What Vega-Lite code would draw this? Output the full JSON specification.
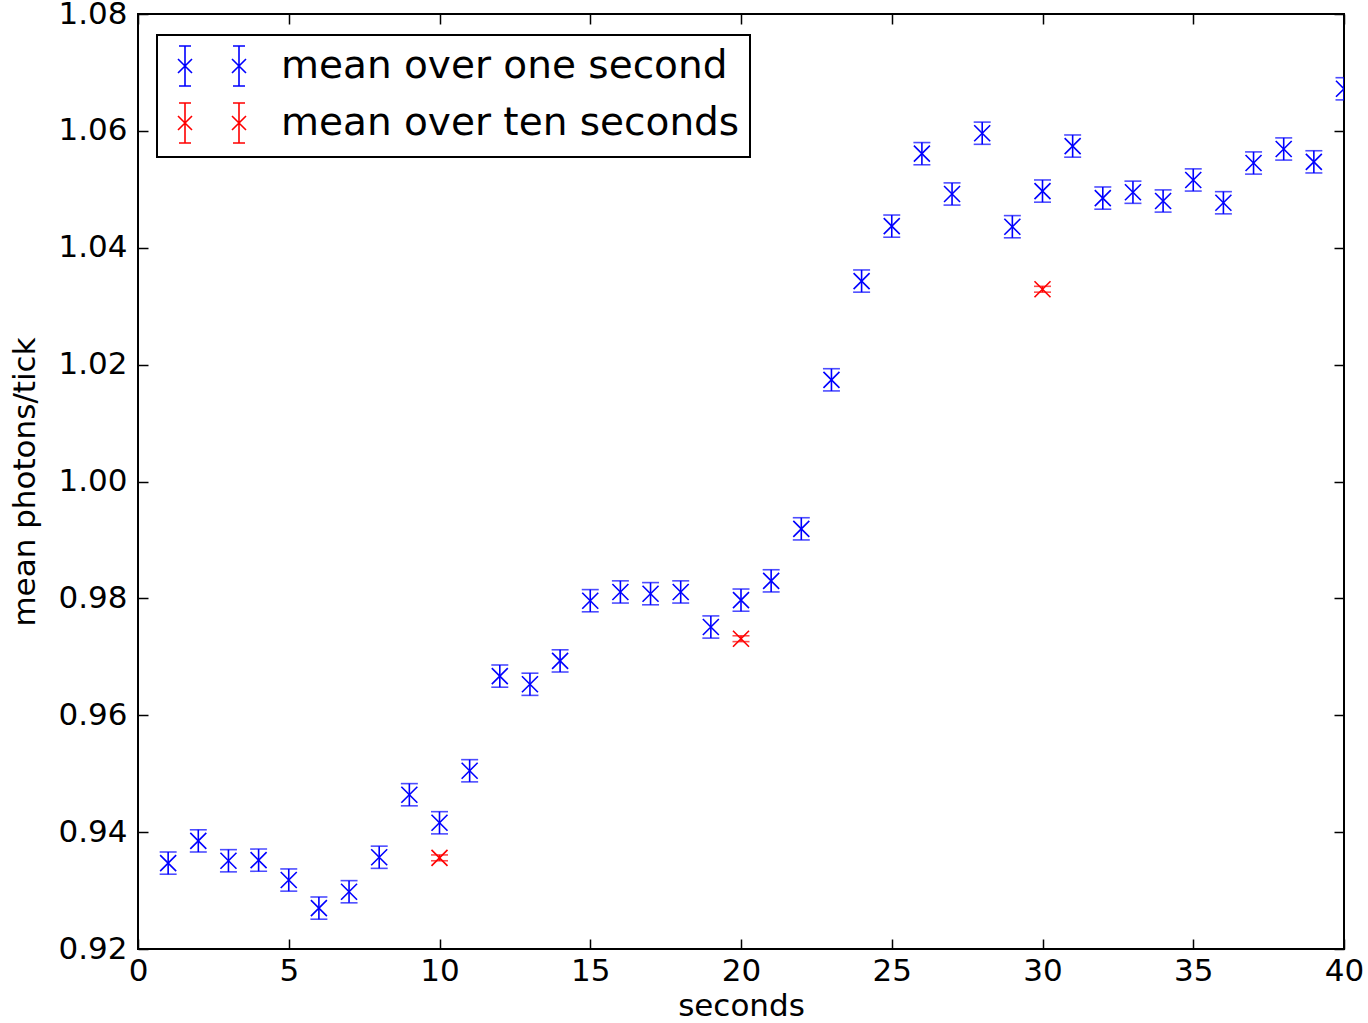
{
  "$schema": "https://vega.github.io/schema/vega-lite/v6.json",
  "width": 1206,
  "height": 935,
  "autosize": {"type": "none"},
  "padding": {"left": 138, "top": 14, "right": 24, "bottom": 74},
  "background": "white",
  "config": {
    "view": {"stroke": "black", "strokeWidth": 2},
    "font": "DejaVu Sans",
    "axis": {
      "grid": false,
      "domain": false,
      "tickSize": -10,
      "tickColor": "black",
      "tickWidth": 1.5,
      "labelFlush": false,
      "labelFont": "DejaVu Sans",
      "labelFontSize": 31,
      "labelColor": "black",
      "titleFont": "DejaVu Sans",
      "titleFontSize": 31,
      "titleFontWeight": "normal",
      "titleColor": "black"
    },
    "legend": {
      "orient": "none",
      "legendX": 19,
      "legendY": 21,
      "padding": 10,
      "strokeColor": "black",
      "strokeWidth": 2,
      "fillColor": "white",
      "labelFont": "DejaVu Sans",
      "labelFontSize": 39,
      "labelColor": "black",
      "labelLimit": 1000,
      "labelOffset": 72,
      "rowPadding": 9,
      "symbolSize": 1600,
      "symbolStrokeWidth": 1.6,
      "symbolOpacity": 1,
      "symbolFillColor": "transparent",
      "symbolType": "M-0.5,-0.35L0.2,0.35M-0.5,0.35L0.2,-0.35M-0.15,-1L-0.15,1M-0.45,-1L0.15,-1M-0.45,1L0.15,1M2.2,-0.35L2.9,0.35M2.2,0.35L2.9,-0.35M2.55,-1L2.55,1M2.25,-1L2.85,-1M2.25,1L2.85,1"
    }
  },
  "data": {
    "values": [
      {"seconds": 1, "value": 0.9347, "err": 0.0019, "series": "mean over one second"},
      {"seconds": 2, "value": 0.9385, "err": 0.0019, "series": "mean over one second"},
      {"seconds": 3, "value": 0.9351, "err": 0.0019, "series": "mean over one second"},
      {"seconds": 4, "value": 0.9352, "err": 0.0019, "series": "mean over one second"},
      {"seconds": 5, "value": 0.9318, "err": 0.0019, "series": "mean over one second"},
      {"seconds": 6, "value": 0.9270, "err": 0.0019, "series": "mean over one second"},
      {"seconds": 7, "value": 0.9298, "err": 0.0019, "series": "mean over one second"},
      {"seconds": 8, "value": 0.9357, "err": 0.0019, "series": "mean over one second"},
      {"seconds": 9, "value": 0.9464, "err": 0.0019, "series": "mean over one second"},
      {"seconds": 10, "value": 0.9416, "err": 0.0019, "series": "mean over one second"},
      {"seconds": 11, "value": 0.9505, "err": 0.0019, "series": "mean over one second"},
      {"seconds": 12, "value": 0.9667, "err": 0.0019, "series": "mean over one second"},
      {"seconds": 13, "value": 0.9653, "err": 0.0019, "series": "mean over one second"},
      {"seconds": 14, "value": 0.9693, "err": 0.0019, "series": "mean over one second"},
      {"seconds": 15, "value": 0.9796, "err": 0.0019, "series": "mean over one second"},
      {"seconds": 16, "value": 0.9811, "err": 0.0019, "series": "mean over one second"},
      {"seconds": 17, "value": 0.9808, "err": 0.0019, "series": "mean over one second"},
      {"seconds": 18, "value": 0.9811, "err": 0.0019, "series": "mean over one second"},
      {"seconds": 19, "value": 0.9751, "err": 0.0019, "series": "mean over one second"},
      {"seconds": 20, "value": 0.9797, "err": 0.0019, "series": "mean over one second"},
      {"seconds": 21, "value": 0.9830, "err": 0.0019, "series": "mean over one second"},
      {"seconds": 22, "value": 0.9919, "err": 0.0019, "series": "mean over one second"},
      {"seconds": 23, "value": 1.0174, "err": 0.0019, "series": "mean over one second"},
      {"seconds": 24, "value": 1.0343, "err": 0.0019, "series": "mean over one second"},
      {"seconds": 25, "value": 1.0437, "err": 0.0019, "series": "mean over one second"},
      {"seconds": 26, "value": 1.0561, "err": 0.0019, "series": "mean over one second"},
      {"seconds": 27, "value": 1.0492, "err": 0.0019, "series": "mean over one second"},
      {"seconds": 28, "value": 1.0596, "err": 0.0019, "series": "mean over one second"},
      {"seconds": 29, "value": 1.0436, "err": 0.0019, "series": "mean over one second"},
      {"seconds": 30, "value": 1.0497, "err": 0.0019, "series": "mean over one second"},
      {"seconds": 31, "value": 1.0574, "err": 0.0019, "series": "mean over one second"},
      {"seconds": 32, "value": 1.0485, "err": 0.0019, "series": "mean over one second"},
      {"seconds": 33, "value": 1.0495, "err": 0.0019, "series": "mean over one second"},
      {"seconds": 34, "value": 1.0480, "err": 0.0019, "series": "mean over one second"},
      {"seconds": 35, "value": 1.0516, "err": 0.0019, "series": "mean over one second"},
      {"seconds": 36, "value": 1.0477, "err": 0.0019, "series": "mean over one second"},
      {"seconds": 37, "value": 1.0545, "err": 0.0019, "series": "mean over one second"},
      {"seconds": 38, "value": 1.0569, "err": 0.0019, "series": "mean over one second"},
      {"seconds": 39, "value": 1.0547, "err": 0.0019, "series": "mean over one second"},
      {"seconds": 40, "value": 1.0672, "err": 0.0019, "series": "mean over one second"},
      {"seconds": 10, "value": 0.9356, "err": 0.0005, "series": "mean over ten seconds"},
      {"seconds": 20, "value": 0.9731, "err": 0.0005, "series": "mean over ten seconds"},
      {"seconds": 30, "value": 1.0329, "err": 0.0005, "series": "mean over ten seconds"}
    ]
  },
  "resolve": {"axis": {"x": "independent", "y": "independent"}},
  "layer": [
    {
      "mark": {"type": "errorbar", "clip": true, "thickness": 1.6, "ticks": {"size": 17, "strokeWidth": 1.6}, "rule": {"strokeWidth": 1.6}},
      "encoding": {
        "x": {"field": "seconds", "type": "quantitative",
              "scale": {"domain": [0, 40], "nice": false, "zero": false},
              "axis": {"orient": "bottom", "values": [0, 5, 10, 15, 20, 25, 30, 35, 40], "format": "d", "labelPadding": 17, "title": "seconds", "titlePadding": 5}},
        "y": {"field": "value", "type": "quantitative",
              "scale": {"domain": [0.92, 1.08], "nice": false, "zero": false},
              "axis": {"orient": "left", "values": [0.92, 0.94, 0.96, 0.98, 1.0, 1.02, 1.04, 1.06, 1.08], "format": ".2f", "labelPadding": 21, "title": "mean photons/tick", "titlePadding": 16}},
        "yError": {"field": "err"},
        "color": {"field": "series", "type": "nominal", "legend": {"title": null},
                  "scale": {"domain": ["mean over one second", "mean over ten seconds"], "range": ["#0000ff", "#ff0000"]}}
      }
    },
    {
      "mark": {"type": "point", "clip": true, "filled": false, "shape": "M-1,-1L1,1M-1,1L1,-1", "size": 256, "strokeWidth": 1.6, "opacity": 1},
      "encoding": {
        "x": {"field": "seconds", "type": "quantitative",
              "scale": {"domain": [0, 40], "nice": false, "zero": false},
              "axis": {"orient": "top", "values": [0, 5, 10, 15, 20, 25, 30, 35, 40], "labels": false, "title": null}},
        "y": {"field": "value", "type": "quantitative",
              "scale": {"domain": [0.92, 1.08], "nice": false, "zero": false},
              "axis": {"orient": "right", "values": [0.92, 0.94, 0.96, 0.98, 1.0, 1.02, 1.04, 1.06, 1.08], "labels": false, "title": null}},
        "color": {"field": "series", "type": "nominal", "legend": {"title": null},
                  "scale": {"domain": ["mean over one second", "mean over ten seconds"], "range": ["#0000ff", "#ff0000"]}}
      }
    }
  ]
}
